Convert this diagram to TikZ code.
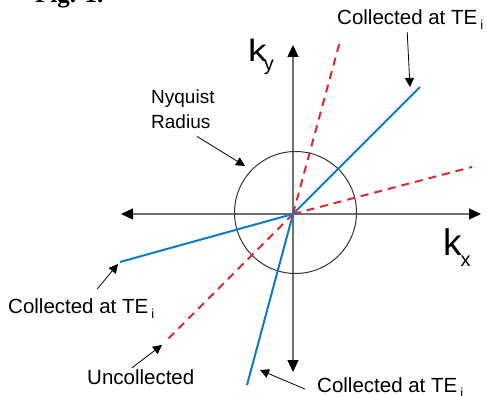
\documentclass[tikz,border=0pt]{standalone}
\usepackage{fontspec}
\setmainfont{Liberation Sans}
\newfontfamily\figfont{Liberation Serif}
\usepackage{tikz}
\usetikzlibrary{arrows.meta,calc}
\definecolor{raycol}{HTML}{0A7DC8}
\definecolor{misscol}{HTML}{E0262B}
\definecolor{axiscol}{HTML}{707070}
\definecolor{ringcol}{HTML}{333333}
\newcommand{\tei}{TE\hspace{3pt}\raisebox{-5pt}{\fontsize{13}{13}\selectfont i}}

\begin{document}
\begin{tikzpicture}[x=1pt,y=-1pt,
  lbl/.style={font=\fontsize{20.5}{25}\selectfont,inner sep=0pt,anchor=base west},
  ax/.style={draw=axiscol,line width=1.3pt,
             arrows={Triangle[length=12pt,width=11pt,color=black]-Triangle[length=12pt,width=11pt,color=black]}},
  ray/.style={draw=raycol,line width=2pt},
  miss/.style={draw=misscol,line width=2pt,dash pattern=on 8pt off 6pt},
  ptr/.style={-{Triangle[length=9pt,width=9pt]},line width=0.8pt},
]
\useasboundingbox (0,0) rectangle (487,396);

% axes and Nyquist circle
\coordinate (O) at (293,214);
\coordinate (xL) at (121,214);
\coordinate (xR) at (481,214);
\coordinate (yT) at (293,45);
\coordinate (yB) at (293,372);
\draw[ax] (xL) -- (xR);
\draw[ax] (yB) -- (yT);
\node[circle,draw=ringcol,line width=1pt,minimum size=122pt,inner sep=0pt] (nyq) at (295.5,212.5) {};

% sampled spokes
\coordinate (m1) at (340,41);
\coordinate (m2) at (472,167);
\coordinate (m3) at (167,340);
\coordinate (r1) at (420,87);
\coordinate (r2) at (120,262);
\coordinate (r3) at (247,385);
\draw[miss] (O) -- (m1);
\draw[miss] (O) -- (m2);
\draw[miss] (O) -- (m3);
\draw[ray] (O) -- (r1);
\draw[ray] (O) -- (r2);
\draw[ray] (O) -- (r3);

% axis names
\node[inner sep=0pt,anchor=base west] (ky) at (248,62)
  {\fontsize{31}{31}\selectfont\scalebox{1.2}[1]{k}\hspace{-3pt}\raisebox{-8.7pt}{\fontsize{20}{20}\selectfont y}};
\node[inner sep=0pt,anchor=base west] (kx) at (443,255)
  {\fontsize{37}{37}\selectfont k\hspace{-1pt}\raisebox{-11pt}{\fontsize{20}{20}\selectfont x}};

% labels
\node[inner sep=0pt,anchor=base west] (fig) at (35,3) {\figfont\bfseries\fontsize{25}{25}\selectfont Fig. 1.};
\node[lbl] (lblTR) at (337,25) {Collected at \tei};
\node[lbl] (lblL) at (8,313) {Collected at \tei};
\node[lbl] (lblU) at (87,384) {Uncollected};
\node[lbl] (lblBR) at (317,392) {Collected at \tei};
\node[inner sep=0pt,anchor=north west,align=left,font=\fontsize{19}{25}\selectfont] (lblNyq) at (151,90)
  {Nyquist\\Radius};

\coordinate (tTR) at (410,87);
\coordinate (tL) at (118,264);
\coordinate (tU) at (162,345);
\coordinate (tBR) at (260,370);
\coordinate (tNyq) at (245,166);
\draw[ptr] ([xshift=-3pt,yshift=-2pt]lblTR.south) -- (tTR);
\draw[ptr] ([xshift=16pt,yshift=9pt]lblL.north) -- (tL);
\draw[ptr] ([xshift=-9pt,yshift=1pt]lblU.north) -- (tU);
\draw[ptr] ([xshift=-12pt,yshift=-2pt]lblBR.west) -- (tBR);
\draw[ptr] ([xshift=14pt,yshift=-7pt]lblNyq.south) -- (tNyq);
\end{tikzpicture}
\end{document}
